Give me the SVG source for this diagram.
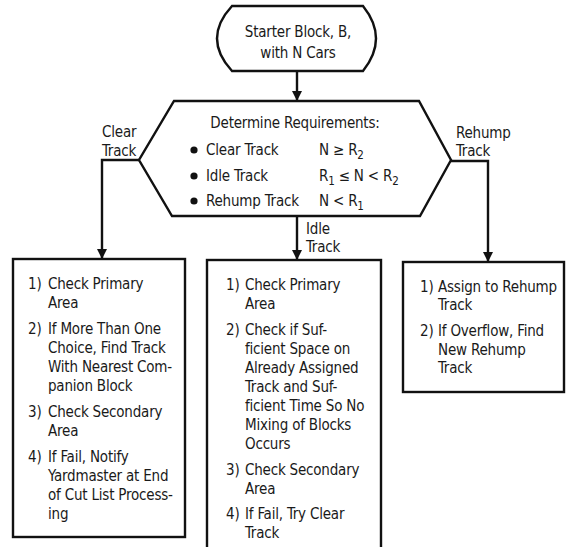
<svg xmlns="http://www.w3.org/2000/svg" width="566" height="547" viewBox="0 0 566 547">
<style>
.s{fill:#fff;stroke:#111;stroke-width:2.4;stroke-linejoin:miter}
.c{fill:none;stroke:#111;stroke-width:2.4}
text{font-family:"DejaVu Sans Condensed","Liberation Sans Narrow","Liberation Sans",Arial,sans-serif;font-size:15px;letter-spacing:-0.2px;fill:#1a1a1a}
.m{text-anchor:middle}
.sub{font-size:11.5px}
</style>
<rect width="566" height="547" fill="#fff"/>
<g id="connectors">
<path class="c" d="M297,71 V100"/>
<path d="M292,91 L302,91 L297,101 Z" fill="#111"/>
<path class="c" d="M139,160 H102 V258"/>
<path d="M97,249 L107,249 L102,259 Z" fill="#111"/>
<path class="c" d="M297,216 V259"/>
<path d="M292,250 L302,250 L297,260 Z" fill="#111"/>
<path class="c" d="M451,161 H488 V261"/>
<path d="M483,252 L493,252 L488,262 Z" fill="#111"/>
</g>
<g id="start">
<path class="s" d="M232,6 H363 Q389,38.5 363,71 H232 Q202,38.5 232,6 Z"/>
<text class="m" x="298" y="37">Starter Block, B,</text>
<text class="m" x="298" y="58">with N Cars</text>
</g>
<g id="decision">
<path class="s" d="M174,101 H419 L451,160 L420,216 H172 L139,160 Z"/>
<text class="m" x="295" y="128">Determine Requirements:</text>
<circle cx="194" cy="150" r="3.6" fill="#111"/>
<circle cx="194" cy="176" r="3.6" fill="#111"/>
<circle cx="194" cy="201" r="3.6" fill="#111"/>
<text x="206" y="155">Clear Track</text>
<text x="206" y="181">Idle Track</text>
<text x="206" y="206">Rehump Track</text>
<text x="319" y="155">N ≥ R<tspan class="sub" dy="4">2</tspan></text>
<text x="319" y="181">R<tspan class="sub" dy="4">1</tspan><tspan dy="-4"> ≤ N &lt; R</tspan><tspan class="sub" dy="4">2</tspan></text>
<text x="319" y="206">N &lt; R<tspan class="sub" dy="4">1</tspan></text>
</g>
<g id="labels">
<text x="102" y="137">Clear</text>
<text x="102" y="156">Track</text>
<text x="456" y="138">Rehump</text>
<text x="456" y="156">Track</text>
<text x="306" y="234">Idle</text>
<text x="306" y="252">Track</text>
</g>
<g id="clear-box">
<rect class="s" x="13" y="259" width="172" height="278"/>
<text x="28" y="289">1)</text><text x="48" y="289">Check Primary</text>
<text x="48" y="308">Area</text>
<text x="28" y="334">2)</text><text x="48" y="334">If More Than One</text>
<text x="48" y="353">Choice, Find Track</text>
<text x="48" y="372">With Nearest Com-</text>
<text x="48" y="391">panion Block</text>
<text x="28" y="417">3)</text><text x="48" y="417">Check Secondary</text>
<text x="48" y="436">Area</text>
<text x="28" y="462">4)</text><text x="48" y="462">If Fail, Notify</text>
<text x="48" y="481">Yardmaster at End</text>
<text x="48" y="500">of Cut List Process-</text>
<text x="48" y="519">ing</text>
</g>
<g id="idle-box">
<rect class="s" x="207" y="260" width="174" height="300"/>
<text x="226" y="290">1)</text><text x="245" y="290">Check Primary</text>
<text x="245" y="309">Area</text>
<text x="226" y="335">2)</text><text x="245" y="335">Check if Suf-</text>
<text x="245" y="354">ficient Space on</text>
<text x="245" y="373">Already Assigned</text>
<text x="245" y="392">Track and Suf-</text>
<text x="245" y="411">ficient Time So No</text>
<text x="245" y="430">Mixing of Blocks</text>
<text x="245" y="449">Occurs</text>
<text x="226" y="475">3)</text><text x="245" y="475">Check Secondary</text>
<text x="245" y="494">Area</text>
<text x="226" y="519">4)</text><text x="245" y="519">If Fail, Try Clear</text>
<text x="245" y="538">Track</text>
</g>
<g id="rehump-box">
<rect class="s" x="403" y="262" width="161" height="130"/>
<text x="420" y="292">1)</text><text x="438" y="292">Assign to Rehump</text>
<text x="438" y="310">Track</text>
<text x="420" y="336">2)</text><text x="438" y="336">If Overflow, Find</text>
<text x="438" y="355">New Rehump</text>
<text x="438" y="373">Track</text>
</g>
</svg>
